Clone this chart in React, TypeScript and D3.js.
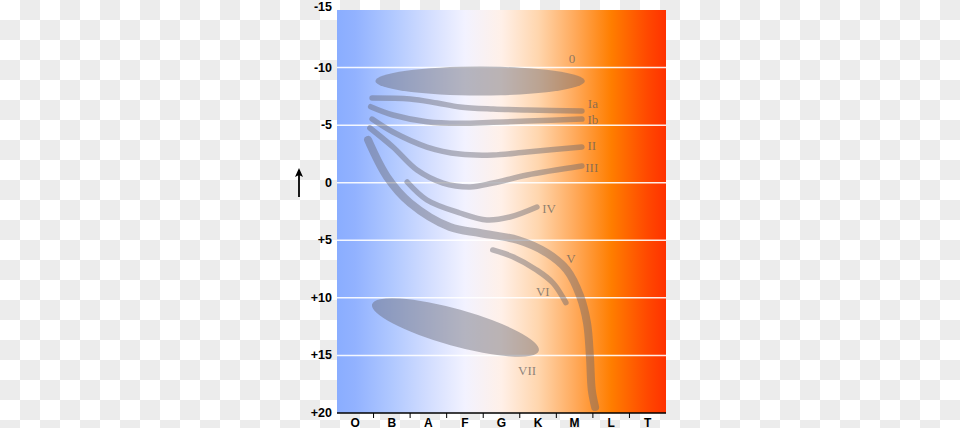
import React from 'react';
import * as d3 from 'd3';

// Spectral classes (x axis) and their background colours
const categories = ['O', 'B', 'A', 'F', 'G', 'K', 'M', 'L', 'T'];
const categoryColors = ['#92b2ff', '#b0c8ff', '#d2ddff', '#f2f2ff', '#fff0e8', '#ffd6ae', '#ffaa5c', '#ff7e00', '#ff4800'];
const edgeColors = ['#8aadff', '#ff3200'];

// Absolute magnitude (y axis)
const magnitudeTicks = [-15, -10, -5, 0, 5, 10, 15, 20];
const gridMagnitudes = [-10, -5, 0, 5, 10, 15];

// Luminosity class tracks: [spectral index, absolute magnitude]
const classIa = [[0.96, -7.36], [2.0, -7.27], [2.74, -6.92], [3.36, -6.58], [4.27, -6.4], [5.2, -6.31], [6.7, -6.23]];
const classIb = [[0.92, -6.6], [1.53, -5.88], [2.46, -5.3], [3.36, -5.16], [4.27, -5.25], [5.2, -5.36], [6.7, -5.53]];
const classII = [[0.96, -5.53], [1.53, -4.4], [2.46, -3.1], [3.36, -2.49], [4.27, -2.41], [5.2, -2.67], [6.7, -3.1]];
const classIII = [[0.9, -4.75], [1.53, -3.1], [2.19, -1.1], [2.9, 0.03], [3.64, 0.37], [4.27, 0.03], [5.2, -0.67], [6.7, -1.45]];
const classIV = [[1.92, -0.06], [2.46, 1.5], [3.36, 2.63], [4.1, 3.24], [4.73, 2.98], [5.47, 2.11]];
const classV = [[0.85, -3.71], [1.37, -0.5], [2.0, 1.76], [3.09, 3.85], [3.91, 4.37], [4.95, 4.98], [5.74, 6.1], [6.29, 7.58], [6.65, 9.84], [6.84, 12.18], [6.92, 15.14], [6.97, 18.0], [7.06, 19.48]];
const classVI = [[4.26, 5.84], [4.81, 6.43], [5.46, 7.58], [5.91, 8.71], [6.26, 10.42]];

// Regions: major-axis end points and half width (in magnitudes)
const class0Region = { start: [1.05, -8.83], end: [6.78, -8.83], halfWidth: 1.26 };
const classVIIRegion = { start: [0.96, 10.55], end: [5.52, 14.6], halfWidth: 1.6 };

// Labels
const labelNames = ['0', 'Ia', 'Ib', 'II', 'III', 'IV', 'V', 'VI', 'VII'];
const labelX = [6.43, 7.0, 7.0, 6.97, 6.97, 5.8, 6.4, 5.63, 5.2];
const labelY = [-10.83, -6.92, -5.53, -3.27, -1.36, 2.2, 6.54, 9.41, 16.35];

const W = 960;
const H = 428;
const left = 337;
const right = 666;
const top = 10;
const bottom = 413;

const x = d3.scaleLinear().domain([0, categories.length]).range([left, right]);
const y = d3.scaleLinear().domain([-15, 20]).range([top, bottom]);

const line = d3
  .line<number[]>()
  .x((d) => x(d[0]))
  .y((d) => y(d[1]))
  .curve(d3.curveCatmullRom.alpha(0.5));

const shade = 'rgba(100,100,112,0.44)';

function Region({ r }: { r: { start: number[]; end: number[]; halfWidth: number } }) {
  const x1 = x(r.start[0]);
  const y1 = y(r.start[1]);
  const x2 = x(r.end[0]);
  const y2 = y(r.end[1]);
  const cx = (x1 + x2) / 2;
  const cy = (y1 + y2) / 2;
  const rx = Math.hypot(x2 - x1, y2 - y1) / 2;
  const ry = Math.abs(y(r.halfWidth) - y(0));
  const ang = (Math.atan2(y2 - y1, x2 - x1) * 180) / Math.PI;
  return <ellipse cx={cx} cy={cy} rx={rx} ry={ry} fill={shade} transform={`rotate(${ang} ${cx} ${cy})`} />;
}

const fmt = (v: number) => (v > 0 ? `+${v}` : `${v}`);

export default function App() {
  const tracks = [classIa, classIb, classII, classIII, classIV, classVI];
  const stops = [
    { o: 0, c: edgeColors[0] },
    ...categoryColors.map((c, i) => ({ o: (i + 0.5) / categories.length, c })),
    { o: 1, c: edgeColors[1] },
  ];
  const bw = (right - left) / categories.length;
  return (
    <svg
      width={W}
      height={H}
      style={{ position: 'absolute', left: 0, top: 0, display: 'block' }}
      fontFamily="'Liberation Sans', Arial, sans-serif"
    >
      <defs>
        <pattern id="checker" width={40} height={40} patternUnits="userSpaceOnUse">
          <rect width={40} height={40} fill="#ffffff" />
          <rect x={20} y={0} width={20} height={20} fill="#ececec" />
          <rect x={0} y={20} width={20} height={20} fill="#ececec" />
        </pattern>
        <linearGradient id="spec" gradientUnits="userSpaceOnUse" x1={left} x2={right} y1={0} y2={0}>
          {stops.map((s, i) => (
            <stop key={i} offset={s.o} stopColor={s.c} />
          ))}
        </linearGradient>
      </defs>
      <rect width={W} height={H} fill="url(#checker)" />
      <rect x={left} y={top} width={right - left} height={bottom - top} fill="url(#spec)" />
      {gridMagnitudes.map((m) => (
        <line key={m} x1={left} x2={right} y1={y(m)} y2={y(m)} stroke="#ffffff" strokeOpacity={0.9} strokeWidth={1.5} />
      ))}
      <Region r={class0Region} />
      <Region r={classVIIRegion} />
      {tracks.map((t, i) => (
        <path key={i} d={line(t as any) || ''} fill="none" stroke={shade} strokeWidth={5.5} strokeLinecap="round" strokeLinejoin="round" />
      ))}
      <path d={line(classV as any) || ''} fill="none" stroke={shade} strokeWidth={8} strokeLinecap="round" strokeLinejoin="round" />
      {labelNames.map((n, i) => (
        <text
          key={n}
          x={x(labelX[i])}
          y={y(labelY[i])}
          textAnchor="middle"
          dominantBaseline="central"
          fontFamily="'Liberation Serif', 'Times New Roman', serif"
          fontSize={13}
          fill="#5e5e5e"
          fillOpacity={0.72}
        >
          {n}
        </text>
      ))}
      {/* bottom axis */}
      <line x1={left} x2={right} y1={bottom} y2={bottom} stroke="#000" strokeWidth={1.5} />
      {categories.slice(1).map((c, i) => (
        <line key={c} x1={x(i + 1)} x2={x(i + 1)} y1={bottom} y2={bottom + 5} stroke="#000" strokeWidth={1} />
      ))}
      {categories.map((c, i) => (
        <text key={c} x={left + bw * (i + 0.5)} y={bottom + 9.5} textAnchor="middle" dominantBaseline="central" fontSize={12} fontWeight="bold" fill="#000">
          {c}
        </text>
      ))}
      {/* left axis labels */}
      {magnitudeTicks.map((m) => (
        <text key={m} x={332} y={y(m) - (m === -15 ? 3 : 0)} textAnchor="end" dominantBaseline="central" fontSize={12.5} fontWeight="bold" fill="#000">
          {fmt(m)}
        </text>
      ))}
      {/* arrow */}
      <line x1={299} x2={299} y1={173} y2={197} stroke="#000" strokeWidth={1.8} />
      <path d="M295,177 L299,168 L303,177 L299,175 Z" fill="#000" />
    </svg>
  );
}
